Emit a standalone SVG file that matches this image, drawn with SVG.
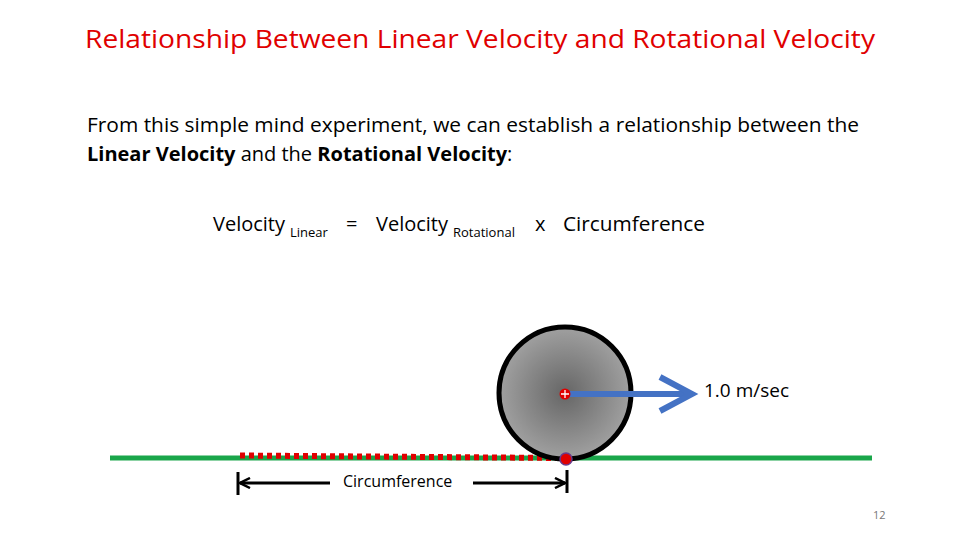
<svg xmlns="http://www.w3.org/2000/svg" width="960" height="540" viewBox="0 0 960 540">
<defs>
<radialGradient id="g" cx="0.5" cy="0.5" r="0.5"><stop offset="0" stop-color="#666"/><stop offset="1" stop-color="#a0a0a0"/></radialGradient>
<marker id="open" viewBox="0 0 12 12" refX="11" refY="6" markerWidth="12" markerHeight="12" markerUnits="userSpaceOnUse" orient="auto-start-reverse"><path d="M1,1 L11,6 L1,11" fill="none" stroke="#000" stroke-width="2.5"/></marker>
</defs>
<style>
text{font-family:"Open Sans","Liberation Sans",sans-serif;fill:#000}
.t{fill:#e00000;font-size:26px}
.b{font-size:20px}
.s{font-size:13px}
</style>
<rect width="960" height="540" fill="#fff"/>
<text class="t" x="85" y="48" textLength="790" lengthAdjust="spacingAndGlyphs">Relationship Between Linear Velocity and Rotational Velocity</text>
<text class="b" x="87" y="132" textLength="772" lengthAdjust="spacingAndGlyphs">From this simple mind experiment, we can establish a relationship between the</text>
<text class="b" x="87" y="161"><tspan font-weight="bold">Linear Velocity</tspan> and the <tspan font-weight="bold">Rotational Velocity</tspan>:</text>
<text class="b" x="213" y="231">Velocity</text>
<text class="s" x="290" y="237">Linear</text>
<text class="b" x="346" y="231">=</text>
<text class="b" x="376" y="231">Velocity</text>
<text class="s" x="453" y="237">Rotational</text>
<text class="b" x="535" y="231">x</text>
<text class="b" x="563" y="231" textLength="142" lengthAdjust="spacingAndGlyphs">Circumference</text>
<g id="ground"><line x1="110" y1="458" x2="872" y2="458" stroke="#1aa64a" stroke-width="5"/></g>
<g id="trace"><line x1="240" y1="455.5" x2="560" y2="458" stroke="#e00000" stroke-width="6" stroke-dasharray="5,4"/></g>
<g id="wheel"><circle cx="565" cy="393" r="66" fill="url(#g)" stroke="#000" stroke-width="5"/></g>
<g id="connectors">
<line x1="570" y1="394" x2="690" y2="394" stroke="#4472c4" stroke-width="6"/>
<path d="M660,377 L692,394 L660,411" fill="none" stroke="#4472c4" stroke-width="6"/>
<line x1="238" y1="472" x2="238" y2="495" stroke="#000" stroke-width="3"/>
<line x1="567" y1="470" x2="567" y2="493" stroke="#000" stroke-width="3"/>
<line x1="330" y1="483" x2="240" y2="483" stroke="#000" stroke-width="3" marker-end="url(#open)"/>
<line x1="473" y1="483" x2="565" y2="483" stroke="#000" stroke-width="3" marker-end="url(#open)"/>
</g>
<g id="center"><circle cx="565" cy="394" r="5.5" fill="#e00000"/><path d="M561,394 h8 M565,390 v8" stroke="#fff" stroke-width="1.3"/></g>
<g id="contact"><circle cx="566" cy="459" r="6" fill="#e00000" stroke="#6a3a8a" stroke-width="1.5"/></g>
<text x="704" y="397" font-size="19">1.0 m/sec</text>
<text x="343" y="487" font-size="16">Circumference</text>
<text x="873" y="519" font-size="11" style="fill:#777">12</text>
</svg>
